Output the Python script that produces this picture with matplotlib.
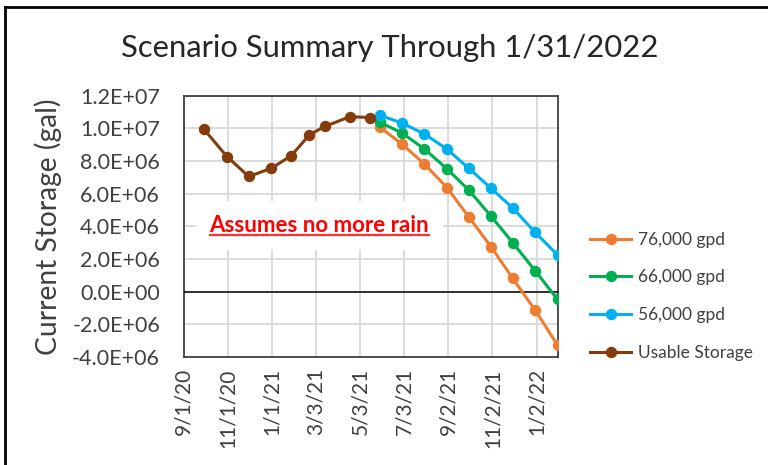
import matplotlib
matplotlib.use('Agg')
import matplotlib.pyplot as plt
from matplotlib.lines import Line2D
import pandas as pd

# data (gallons)
usable_dates = ['2020-09-29', '2020-10-31', '2020-11-30', '2020-12-31', '2021-01-28',
                '2021-02-22', '2021-03-15', '2021-04-19', '2021-05-17']
usable = [9.96e6, 8.28e6, 7.06e6, 7.55e6, 8.34e6, 9.61e6, 10.12e6, 10.72e6, 10.67e6]

scen_dates = ['2021-05-31', '2021-06-30', '2021-07-31', '2021-08-31', '2021-09-30',
              '2021-10-31', '2021-11-30', '2021-12-31', '2022-01-31']
gpd76 = [10.06e6, 9.04e6, 7.82e6, 6.38e6, 4.60e6, 2.76e6, 0.82e6, -1.12e6, -3.27e6]
gpd66 = [10.37e6, 9.72e6, 8.74e6, 7.53e6, 6.24e6, 4.63e6, 3.01e6, 1.29e6, -0.47e6]
gpd56 = [10.80e6, 10.33e6, 9.66e6, 8.74e6, 7.57e6, 6.34e6, 5.13e6, 3.64e6, 2.25e6]

tick_dates = ['2020-09-01', '2020-11-01', '2021-01-01', '2021-03-03', '2021-05-03',
              '2021-07-03', '2021-09-02', '2021-11-02', '2022-01-02']
tick_labels = ['9/1/20', '11/1/20', '1/1/21', '3/3/21', '5/3/21',
               '7/3/21', '9/2/21', '11/2/21', '1/2/22']
y_ticks = [1.2e7, 1.0e7, 8.0e6, 6.0e6, 4.0e6, 2.0e6, 0.0, -2.0e6, -4.0e6]
y_labels = ['1.2E+07', '1.0E+07', '8.0E+06', '6.0E+06', '4.0E+06', '2.0E+06',
            '0.0E+00', '-2.0E+06', '-4.0E+06']

plt.rcParams['font.family'] = ['Lato', 'DejaVu Sans']

fig = plt.figure(figsize=(7.68, 4.65), dpi=100)
ax = fig.add_axes([0.239, 0.232, 0.487, 0.562])

ud = pd.to_datetime(usable_dates)
sd = pd.to_datetime(scen_dates)

ax.plot(ud, usable, color='#843C0C', marker='o', ms=7.2, lw=2.2, zorder=5)
ax.plot(sd, gpd76, color='#ED7D31', marker='o', ms=7.2, lw=2.2, zorder=4)
ax.plot(sd, gpd66, color='#00B050', marker='o', ms=7.2, lw=2.2, zorder=4)
ax.plot(sd, gpd56, color='#00B0F0', marker='o', ms=7.2, lw=2.2, zorder=4)

ax.axhline(0, color='black', lw=1.1, zorder=3)

ax.set_xlim(pd.Timestamp('2020-09-01'), pd.Timestamp('2022-01-31'))
ax.set_ylim(-4.0e6, 1.2e7)
ax.set_xticks(pd.to_datetime(tick_dates))
ax.set_xticklabels(tick_labels, rotation=90, fontsize=15, color='#404040')
ax.set_yticks(y_ticks)
ax.set_yticklabels(y_labels, fontsize=15.5, color='#404040')
ax.tick_params(axis='y', length=0, pad=17)
ax.tick_params(axis='x', length=0, pad=8)
ax.grid(True, color='#D9D9D9', lw=1.3, zorder=0)
ax.set_axisbelow(True)
for s in ax.spines.values():
    s.set_color('#404040')
    s.set_linewidth(1.3)

ax.set_ylabel('Current Storage (gal)', fontsize=20.3, color='#404040', labelpad=7)
fig.text(0.508, 0.897, 'Scenario Summary Through 1/31/2022', fontsize=22.3,
         ha='center', va='center', color='#262626')

note = ax.text(pd.Timestamp('2020-10-07'), 4.05e6, 'Assumes no more rain', color='#FF0000',
               fontsize=16, fontweight='bold', va='center', ha='left', zorder=6,
               bbox=dict(facecolor='white', edgecolor='none', pad=10))

# underline the note
fig.canvas.draw()
bb = note.get_window_extent().transformed(fig.transFigure.inverted())
fig.add_artist(Line2D([bb.x0, bb.x1], [bb.y0 + 0.003, bb.y0 + 0.003],
                      color='#FF3030', lw=1.6, zorder=7))

handles = [Line2D([], [], color=c, marker='o', ms=7.2, lw=2.2)
           for c in ['#ED7D31', '#00B050', '#00B0F0', '#843C0C']]
names = ['76,000 gpd', '66,000 gpd', '56,000 gpd', 'Usable Storage']
fig.legend(handles, names, loc='center left', bbox_to_anchor=(0.768, 0.363),
           frameon=False, fontsize=12.5, labelspacing=1.25, handlelength=2.4,
           handletextpad=0.35, borderpad=0, borderaxespad=0, labelcolor='#404040')

# outer chart frame (left and top edges visible in the crop)
fig.add_artist(Line2D([0.007, 0.007], [0.0, 0.985], color='black', lw=2))
fig.add_artist(Line2D([0.007, 1.0], [0.985, 0.985], color='black', lw=2))

fig.savefig('out.png', dpi=100)
